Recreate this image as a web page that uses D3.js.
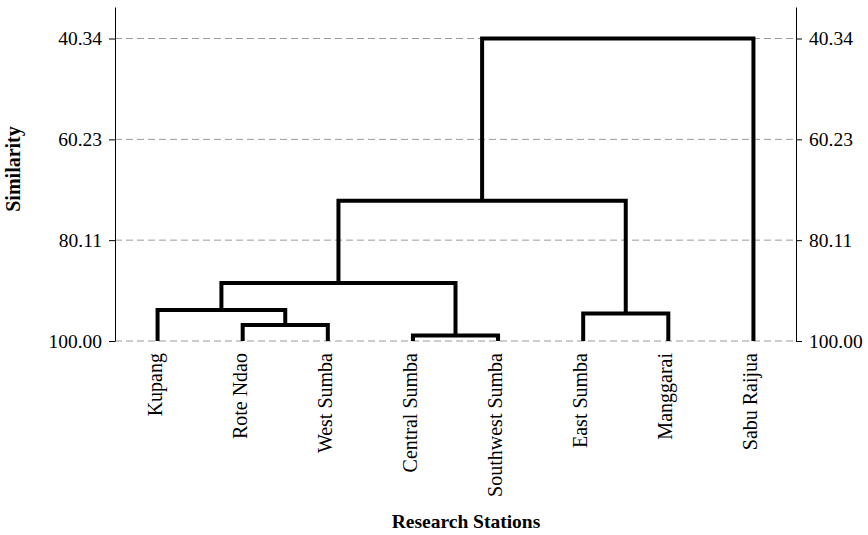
<!DOCTYPE html>
<html>
<head>
<meta charset="utf-8">
<script src="https://cdn.jsdelivr.net/npm/d3@7"></script>
<style>
  html, body { margin: 0; padding: 0; background: #fff; }
  svg { display: block; font-family: "Liberation Serif", "Times New Roman", serif; }
</style>
</head>
<body>
<svg id="chart" width="868" height="535"></svg>
<script>
// Research stations (leaf order along the x axis)
const stations = ["Kupang", "Rote Ndao", "West Sumba", "Central Sumba",
                  "Southwest Sumba", "East Sumba", "Manggarai", "Sabu Raijua"];

// Agglomeration steps: clusters 0-7 are the stations, step i creates cluster 8 + i
const mergeLeft       = [1, 3, 0, 5, 10, 12, 13];
const mergeRight      = [2, 4, 8, 6, 9, 11, 7];
const mergeSimilarity = [96.84, 98.90, 93.88, 94.57, 88.54, 72.34, 40.34];

// Similarity axis ticks
const similarityTicks = [40.34, 60.23, 80.11, 100.00];
const similarityTickLabels = ["40.34", "60.23", "80.11", "100.00"];

const svg = d3.select("#chart");
const plotLeft = 115, plotRight = 796, plotTop = 7, plotBottom = 341;

const x = d3.scaleBand().domain(stations).range([plotLeft, plotRight]);
const y = d3.scaleLinear().domain([40.34, 100]).range([38.5, plotBottom]);
// same mapping, stretched to the full axis height
const yAxisScale = y.copy().domain([y.invert(plotTop), 100]).range([plotTop, plotBottom]);

// gridlines
svg.append("g")
  .selectAll("line")
  .data(similarityTicks)
  .join("line")
    .attr("x1", plotLeft).attr("x2", plotRight)
    .attr("y1", d => y(d)).attr("y2", d => y(d))
    .attr("stroke", "#9a9a9a")
    .attr("stroke-width", 1)
    .attr("stroke-dasharray", "7,4");

// axes on both sides
const fmt = d => similarityTickLabels[similarityTicks.indexOf(d)];
const axisStyle = g => {
  g.selectAll("text").attr("font-size", 19.5).attr("fill", "#000")
    .attr("font-family", "Liberation Serif, Times New Roman, serif");
  g.selectAll("line").attr("stroke", "#000");
  g.select(".domain").attr("stroke", "#000");
};
svg.append("g")
  .attr("transform", `translate(${plotLeft},0)`)
  .call(d3.axisLeft(yAxisScale).tickValues(similarityTicks).tickFormat(fmt)
        .tickSize(6).tickSizeOuter(0).tickPadding(7))
  .call(axisStyle);
svg.append("g")
  .attr("transform", `translate(${plotRight},0)`)
  .call(d3.axisRight(yAxisScale).tickValues(similarityTicks).tickFormat(fmt)
        .tickSize(6).tickSizeOuter(0).tickPadding(7))
  .call(axisStyle);

// node positions: stations at the base, clusters centred over their two members
const nodeX = stations.map(s => x(s) + x.bandwidth() / 2);
const nodeY = stations.map(() => y(100));
mergeLeft.forEach((a, i) => {
  const b = mergeRight[i];
  nodeX.push((nodeX[a] + nodeX[b]) / 2);
  nodeY.push(y(mergeSimilarity[i]));
});

// dendrogram links
svg.append("g")
  .selectAll("path")
  .data(mergeLeft.map((a, i) => ({ a, b: mergeRight[i], s: mergeSimilarity[i] })))
  .join("path")
    .attr("d", d => {
      const ym = y(d.s);
      return `M${nodeX[d.a]},${nodeY[d.a]}V${ym}H${nodeX[d.b]}V${nodeY[d.b]}`;
    })
    .attr("fill", "none")
    .attr("stroke", "#000")
    .attr("stroke-width", 4)
    .attr("stroke-linejoin", "miter");

// station labels
svg.append("g")
  .selectAll("text")
  .data(stations)
  .join("text")
    .attr("transform", d => `translate(${x(d) + x.bandwidth() / 2 + 4},353) rotate(-90)`)
    .attr("text-anchor", "end")
    .attr("font-size", 20)
    .text(d => d);

// axis titles
svg.append("text")
  .attr("transform", "translate(20,169) rotate(-90)")
  .attr("text-anchor", "middle")
  .attr("font-size", 20)
  .attr("font-weight", "bold")
  .text("Similarity");

svg.append("text")
  .attr("x", 466).attr("y", 528)
  .attr("text-anchor", "middle")
  .attr("font-size", 19.5)
  .attr("font-weight", "bold")
  .text("Research Stations");
</script>
</body>
</html>
